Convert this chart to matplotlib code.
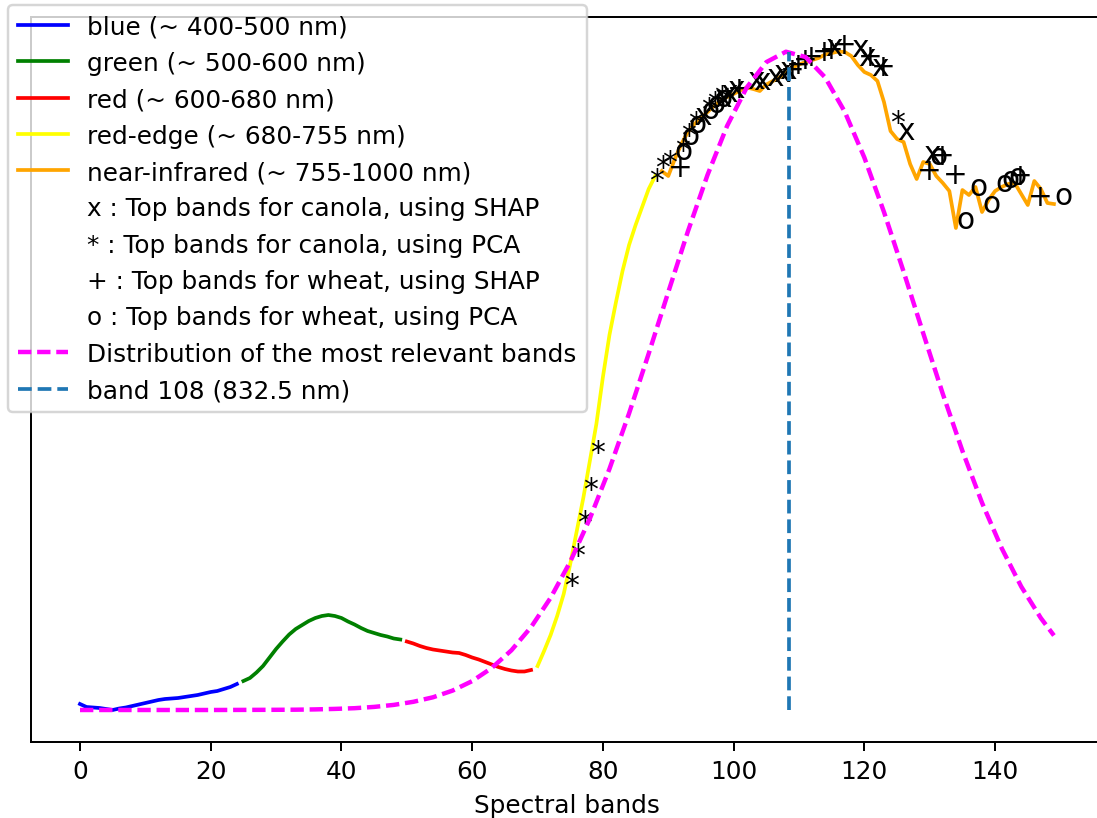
import matplotlib
matplotlib.use("Agg")
import matplotlib.pyplot as plt
import numpy as np

# reflectance per spectral band (arbitrary units, bands 0..149)
reflectance = [
    # blue 0-24
    38, 35, 34.5, 34, 33, 32, 33.5, 34.5, 36, 37.5, 39, 40.5, 42, 43, 43.5,
    44, 45, 46, 47, 48.5, 50, 51, 53, 55, 58,
    # green 25-49
    61, 64, 69.5, 76, 84.5, 93, 100.5, 107.5, 113, 117, 121, 124, 126, 127,
    126, 124, 120.5, 117.5, 114, 111, 109, 107, 105.5, 103.5, 102.5,
    # red 50-69
    100.5, 98.5, 96, 94, 92.5, 91.5, 90.5, 89.5, 89, 87, 84.5, 82.5, 80,
    77.5, 75, 73, 71.5, 70.5, 70.5, 72,
    # red-edge 70-88
    76, 91, 107, 126, 148, 178, 211, 244, 281, 318, 365, 407, 440, 471, 497,
    517, 535, 553, 566,
    # near-infrared 89-149
    571, 566, 583, 598, 610, 618, 624, 630, 636, 641.5, 645, 648, 651.5,
    654.5, 653, 651, 657.5, 661, 664.5, 669, 674.5, 677.5, 680, 682, 684,
    687.5, 689, 690.5, 690, 686, 677, 670, 667, 661, 640, 611, 603, 600, 578,
    563, 580, 578, 566, 559, 551, 514, 552, 547, 555, 530, 542, 551, 555, 558,
    559, 548, 537, 561, 553, 539, 538,
]

region_labels = ["blue (~ 400-500 nm)", "green (~ 500-600 nm)", "red (~ 600-680 nm)",
                 "red-edge (~ 680-755 nm)", "near-infrared (~ 755-1000 nm)"]
region_colors = ["blue", "green", "red", "yellow", "orange"]
region_first = [0, 25, 50, 70, 89]
region_last = [24, 49, 69, 88, 149]

canola_shap = [94, 97, 98, 99, 102, 103, 105, 106, 107, 114, 118, 119, 121, 125, 129]
canola_pca = [74, 75, 76, 77, 78, 87, 88, 89, 91, 92, 93, 95, 96, 97, 124]
wheat_shap = [90, 99, 107, 108, 109, 110, 112, 113, 115, 119, 121, 128, 130, 132, 142, 145]
wheat_pca = [91, 92, 93, 95, 96, 97, 130, 134, 136, 138, 140, 141, 142, 149]

marker_chars = ["x", "*", "+", "o"]
marker_labels = ["x : Top bands for canola, using SHAP",
                 "* : Top bands for canola, using PCA",
                 "+ : Top bands for wheat, using SHAP",
                 "o : Top bands for wheat, using PCA"]

# distribution of the most relevant bands (read at sample bands)
dist_bands = [0, 10, 20, 30, 33, 36, 39, 42, 45, 48, 51, 54, 57, 60, 63, 66, 69,
              72, 75, 78, 81, 84, 87, 90, 93, 96, 99, 102, 105, 108, 111, 114,
              117, 120, 123, 126, 129, 132, 135, 138, 141, 144, 147, 149]
dist_values = [32, 32, 32, 32.2, 32.3, 32.6, 33.1, 33.8, 35.1, 37.1, 40.2, 44.7,
               51.4, 60.9, 74.1, 91.7, 114.8, 144.2, 180.3, 223.4, 273.1, 328.6,
               388.3, 449.9, 510.6, 567.0, 616.1, 654.5, 679.9, 690.3, 685.0,
               664.6, 630.2, 584.4, 530.0, 470.4, 408.8, 348.1, 291.1, 239.2,
               193.9, 155.4, 123.9, 106.5]

best_band = 108.5

fig = plt.figure(figsize=(1097 / 178, 819 / 178), dpi=178)
ax = fig.add_axes([0.02853, 0.0928, 0.9766, 0.8852])

bands = np.arange(len(reflectance))
refl = np.array(reflectance)

for first, last, c, lab in zip(region_first, region_last, region_colors, region_labels):
    ax.plot(bands[first:last + 1], refl[first:last + 1], color=c, label=lab)

for ch, lab in zip(marker_chars, marker_labels):
    ax.plot([], [], " ", label=lab)

# band markers written as plain characters on the curve
for ch, lst in zip(marker_chars, [canola_shap, canola_pca, wheat_shap, wheat_pca]):
    for b in lst:
        ax.text(b, refl[b], ch, fontsize=12, zorder=2)

ax.plot(dist_bands, dist_values, color="magenta", lw=1.8, linestyle="--",
        dashes=(3.0, 1.3), label="Distribution of the most relevant bands")
ax.vlines(best_band, refl.min(), refl.max(), colors="tab:blue", linestyles="--",
          lw=1.5, label="band 108 (832.5 nm)")

ax.set_xlim(-7.45, 156.45)
ax.set_ylim(0, 725)
ax.set_yticks([])
ax.set_xlabel("Spectral bands")

ax.legend(loc="upper left", bbox_to_anchor=(-0.0214, 1.017), borderaxespad=0)

fig.savefig("out.png", dpi=178)
